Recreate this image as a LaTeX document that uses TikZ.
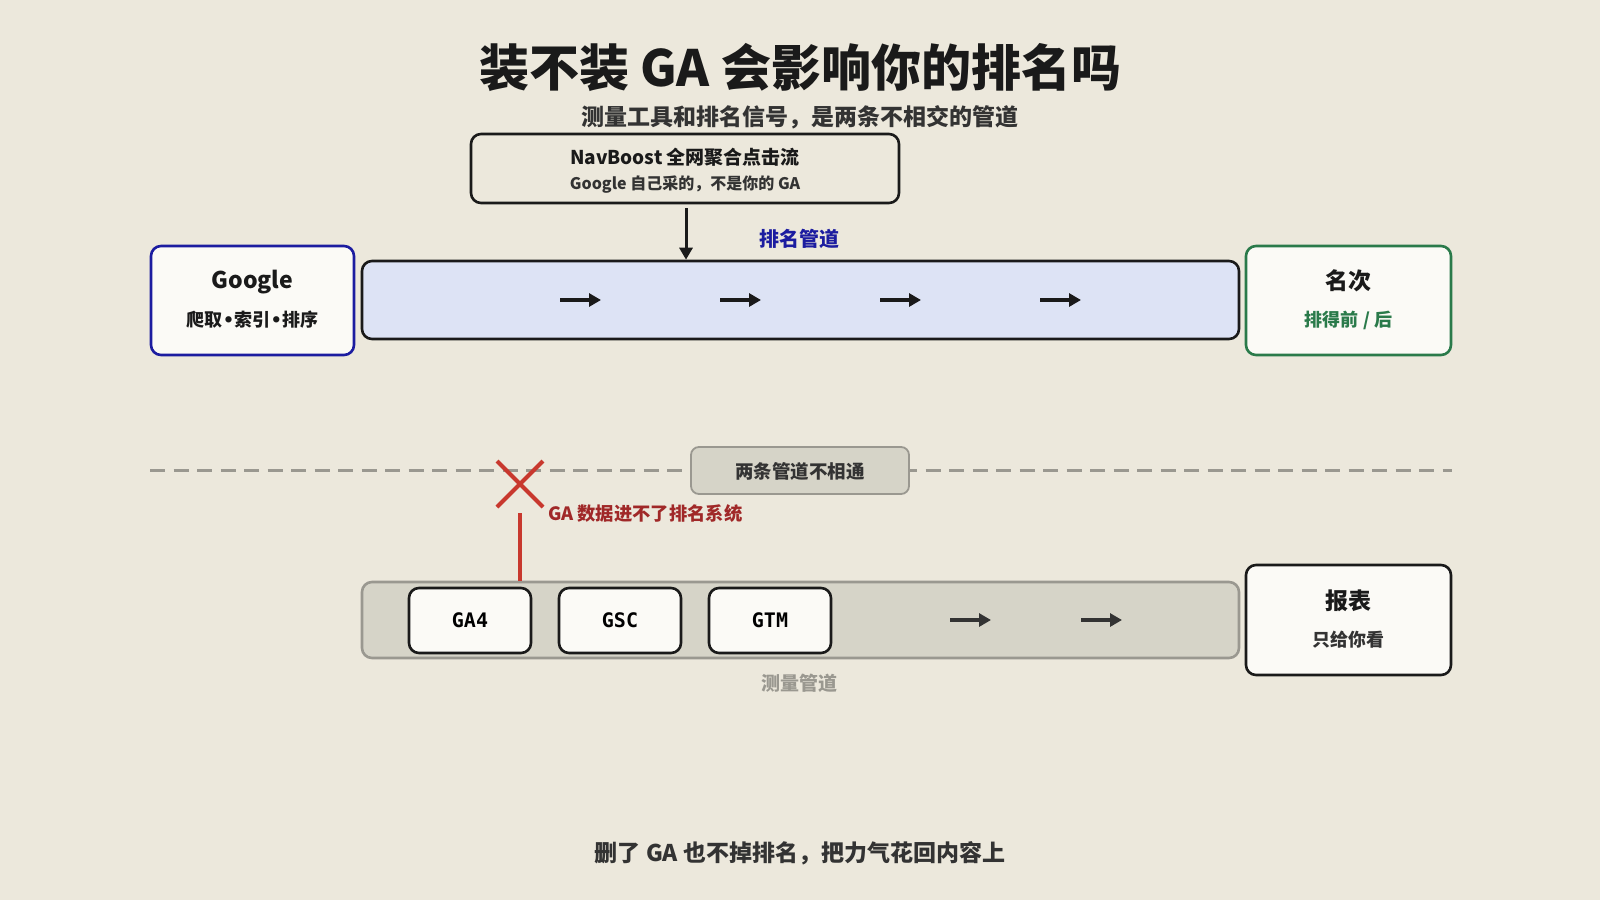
\documentclass[tikz,border=0pt]{standalone}
\usepackage{fontspec}
\setmainfont{Noto Sans CJK SC}
\setmonofont{DejaVu Sans Mono}
\newfontfamily\heavyfont{Noto Sans CJK SC Black}
\newfontfamily\latinsym{DejaVu Sans}
\usetikzlibrary{arrows.meta,calc}
\definecolor{bg}{HTML}{ECE8DC}
\definecolor{card}{HTML}{FBFAF6}
\definecolor{ink}{HTML}{1A1A1A}
\definecolor{subink}{HTML}{333333}
\definecolor{gblue}{HTML}{1C1CA0}
\definecolor{pipeblue}{HTML}{DDE3F5}
\definecolor{ggreen}{HTML}{2A7A4A}
\definecolor{pgray}{HTML}{9A9890}
\definecolor{pfill}{HTML}{D6D4C8}
\definecolor{xred}{HTML}{C8382E}
\definecolor{dred}{HTML}{A02828}
\tikzset{
  card/.style={draw=ink, fill=card, line width=2.6pt, rounded corners=10pt, inner sep=0pt},
  pipe/.style={line width=2.6pt, rounded corners=10pt, inner sep=0pt},
  flow/.style={draw=ink, line width=4.5pt, -{Triangle[length=12pt,width=13pt]}},
  txt/.style={inner sep=0pt, text=ink},
}
\newcommand{\dotsep}{{\latinsym\bfseries•}}
\begin{document}
\begin{tikzpicture}[x=1pt,y=-1pt]
\fill[bg] (0,0) rectangle (1600,900);
\useasboundingbox (0,0) rectangle (1600,900);

% titles
\node[txt, font=\fontsize{50}{56}\selectfont\heavyfont] (title) at (800,68) {装不装 GA 会影响你的排名吗};
\node[txt, text=subink, font=\fontsize{23}{27}\selectfont\bfseries] (subtitle) at (800,117) {测量工具和排名信号，是两条不相交的管道};

% NavBoost box
\node[card, fill=bg, minimum width=428, minimum height=69] (nav) at (685,168.5) {};
\node[txt, font=\fontsize{19}{22}\selectfont\bfseries] (navT) at (685,157) {NavBoost 全网聚合点击流};
\node[txt, text=subink, font=\fontsize{16}{19}\selectfont\bfseries] (navS) at (685,185) {Google 自己采的，不是你的 GA};

% ranking pipe
\node[pipe, draw=ink, fill=pipeblue, minimum width=877, minimum height=78] (rankpipe) at (800.5,300) {};
\node[txt, text=gblue, font=\fontsize{20}{24}\selectfont\bfseries] (rankL) at (799,239) {排名管道};

\coordinate (navout) at (686,208);
\draw[flow, line width=3pt] (navout) -- (navout |- rankpipe.north);

\foreach \i/\xa in {1/560,2/720,3/880,4/1040}{
  \coordinate (ra\i) at (\xa,300);
  \coordinate (rb\i) at (\xa+41,300);
  \draw[flow] (ra\i) -- (rb\i);
}

% Google box
\node[card, draw=gblue, minimum width=203, minimum height=109] (google) at (252.5,300.5) {};
\node[txt, font=\fontsize{23}{27}\selectfont\bfseries] (googleT) at (252.5,282) {Google};
\node[txt, font=\fontsize{18}{21}\selectfont\bfseries] (googleS) at (252.5,320) {爬取\dotsep 索引\dotsep 排序};

% rank box
\node[card, draw=ggreen, minimum width=205, minimum height=109] (rank) at (1348.5,300.5) {};
\node[txt, font=\fontsize{23}{27}\selectfont\bfseries] (rankT) at (1348.5,281) {名次};
\node[txt, text=ggreen, font=\fontsize{18}{21}\selectfont\bfseries] (rankS) at (1348.5,320) {排得前 / 后};

% dashed separator
\coordinate (dl) at (150,470);
\coordinate (dr) at (1452,470);
\draw[pgray, line width=3pt, dash pattern=on 15pt off 8.5pt] (dl) -- (dr);
\node[draw=pgray, fill=pfill, line width=1.8pt, rounded corners=8pt, minimum width=218, minimum height=47, inner sep=0pt] (sep) at (800,470.5) {};
\node[txt, text=subink, font=\fontsize{18.5}{21}\selectfont\bfseries] (sepT) at (800,471) {两条管道不相通};

% measurement pipe
\node[pipe, draw=pgray, fill=pfill, minimum width=877, minimum height=76] (mpipe) at (800.5,620) {};
\node[txt, text=pgray, font=\fontsize{19}{23}\selectfont\bfseries] (mL) at (799,683) {测量管道};

% red X and line
\coordinate (xc) at (520,484);
\draw[xred, line width=4pt] ($(xc)+(-23,-23)$) -- ($(xc)+(23,23)$);
\draw[xred, line width=4pt] ($(xc)+(-23,23)$) -- ($(xc)+(23,-23)$);
\coordinate (rtop) at (520,513);
\draw[xred, line width=3.5pt] (rtop) -- (rtop |- mpipe.north);
\node[txt, text=dred, anchor=west, font=\fontsize{18.3}{21}\selectfont\bfseries] (gaL) at (548,514) {GA 数据进不了排名系统};

% tool boxes
\node[card, minimum width=122, minimum height=65, font=\fontsize{20}{24}\selectfont\ttfamily\bfseries] (ga4) at (470,620.5) {GA4};
\node[card, minimum width=122, minimum height=65, font=\fontsize{20}{24}\selectfont\ttfamily\bfseries] (gsc) at (620,620.5) {GSC};
\node[card, minimum width=122, minimum height=65, font=\fontsize{20}{24}\selectfont\ttfamily\bfseries] (gtm) at (770,620.5) {GTM};

\foreach \i/\xa in {1/950,2/1081}{
  \coordinate (ma\i) at (\xa,620);
  \coordinate (mb\i) at (\xa+41,620);
  \draw[flow, draw=subink] (ma\i) -- (mb\i);
}

% report box
\node[card, minimum width=205, minimum height=110] (report) at (1348.5,620) {};
\node[txt, font=\fontsize{23}{27}\selectfont\bfseries] (reportT) at (1348.5,601) {报表};
\node[txt, font=\fontsize{18}{21}\selectfont\bfseries, text=subink] (reportS) at (1348.5,640) {只给你看};

% footer
\node[txt, text=subink, font=\fontsize{23}{27}\selectfont\bfseries] (foot) at (800,853) {删了 GA 也不掉排名，把力气花回内容上};
\end{tikzpicture}
\end{document}
